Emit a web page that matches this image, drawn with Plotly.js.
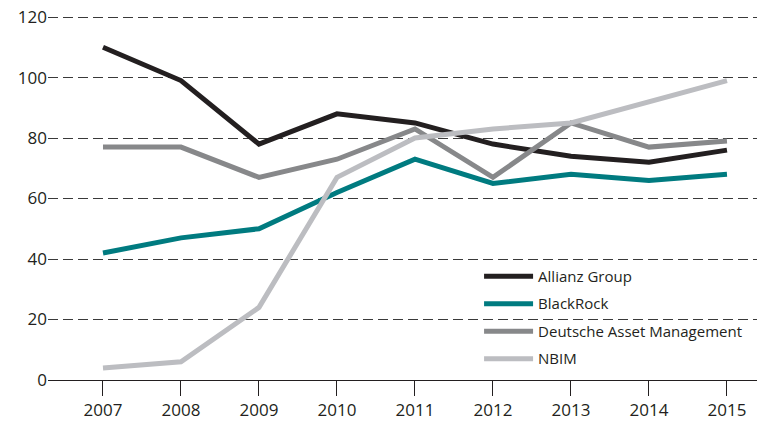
<!DOCTYPE html>
<html>
<head>
<meta charset="utf-8">
<script src="https://cdn.plot.ly/plotly-3.0.1.min.js"></script>
<style>html,body{margin:0;padding:0;background:#fff;}#chart{width:757px;height:423px;}</style>
</head>
<body>
<div id="chart"></div>
<script>
var years = [2007, 2008, 2009, 2010, 2011, 2012, 2013, 2014, 2015];
var allianz = [110, 99, 78, 88, 85, 78, 74, 72, 76];
var blackrock = [42, 47, 50, 62, 73, 65, 68, 66, 68];
var deutsche = [77, 77, 67, 73, 83, 67, 85, 77, 79];
var nbim = [4, 6, 24, 67, 80, 83, 85, 92, 99];
var seriesNames = ['Allianz Group', 'BlackRock', 'Deutsche Asset Management', 'NBIM'];
var seriesColors = ['#231f20', '#007b80', '#87888a', '#bcbdc1'];
var seriesValues = [allianz, blackrock, deutsche, nbim];
var yTicks = [0, 20, 40, 60, 80, 100, 120];

var traces = seriesValues.map(function (vals, i) {
  return {
    x: years, y: vals, name: seriesNames[i], type: 'scatter', mode: 'lines',
    legendgroup: 'g' + i, legendrank: i + 1,
    line: {color: seriesColors[i], width: 5}
  };
});

var layout = {
  width: 757, height: 423,
  margin: {l: 48, r: 0, t: 16, b: 43},
  paper_bgcolor: '#fff', plot_bgcolor: '#fff',
  font: {family: '"Open Sans", "Noto Sans", sans-serif', color: '#231f20', size: 17},
  showlegend: true,
  legend: {
    x: 0.608, y: 0.33, xanchor: 'left', yanchor: 'top',
    bgcolor: 'rgba(0,0,0,0)', traceorder: 'grouped', tracegroupgap: 5,
    itemwidth: 49, font: {size: 15, color: '#231f20'}
  },
  xaxis: {
    range: [2006.295, 2015.385], tickvals: years, ticktext: years.map(String),
    showgrid: false, zeroline: false, showline: true, linecolor: '#231f20', linewidth: 1,
    ticks: 'outside', ticklen: 15, tickcolor: '#231f20', tickwidth: 1,
    tickfont: {size: 17}, fixedrange: true
  },
  yaxis: {
    range: [0, 120.35], tickvals: yTicks, ticktext: yTicks.map(String),
    showgrid: true, gridcolor: '#3a3a3a', gridwidth: 1, griddash: '10px,5px',
    zeroline: false, showline: false, ticks: '', tickfont: {size: 17},
    fixedrange: true
  }
};
Plotly.newPlot('chart', traces, layout, {displayModeBar: false, staticPlot: true});
</script>
</body>
</html>
